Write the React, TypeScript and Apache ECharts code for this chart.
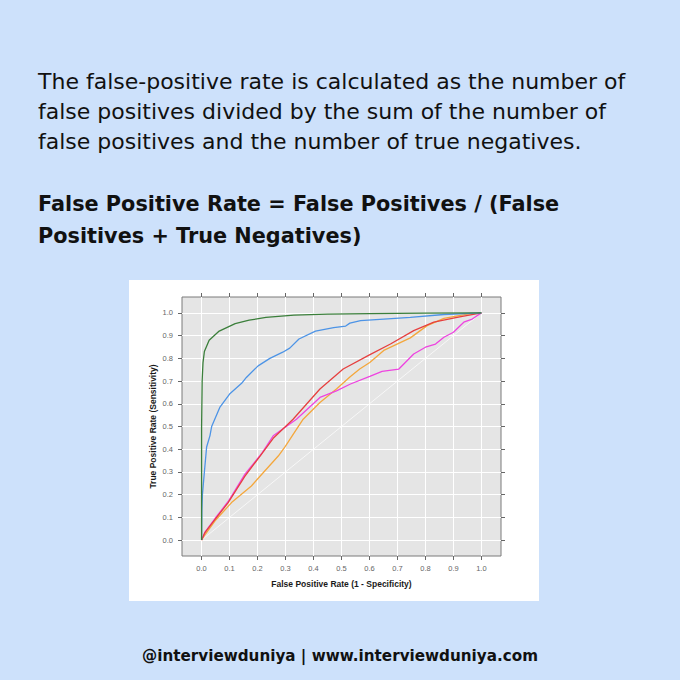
import React, { useEffect, useRef } from "react";
import * as echarts from "echarts";

const tickValues = [0, 0.1, 0.2, 0.3, 0.4, 0.5, 0.6, 0.7, 0.8, 0.9, 1.0];
const tickLabels = ["0.0", "0.1", "0.2", "0.3", "0.4", "0.5", "0.6", "0.7", "0.8", "0.9", "1.0"];

const greenFpr = [0, 0, 0.002, 0.005, 0.01, 0.027, 0.063, 0.12, 0.17, 0.23, 0.33, 0.45, 0.6, 0.8, 1.0];
const greenTpr = [0, 0.5, 0.7, 0.78, 0.83, 0.88, 0.92, 0.953, 0.968, 0.98, 0.99, 0.995, 0.997, 0.999, 1.0];

const blueFpr = [0, 0.001, 0.003, 0.01, 0.018, 0.03, 0.036, 0.065, 0.1, 0.143, 0.16, 0.202, 0.244, 0.29, 0.315, 0.348, 0.407, 0.472, 0.515, 0.53, 0.568, 0.651, 0.746, 0.866, 1.0];
const blueTpr = [0, 0.13, 0.2, 0.3, 0.41, 0.46, 0.5, 0.584, 0.643, 0.69, 0.716, 0.767, 0.8, 0.827, 0.845, 0.885, 0.92, 0.935, 0.942, 0.955, 0.966, 0.973, 0.98, 0.993, 1.0];

const redFpr = [0, 0.012, 0.048, 0.095, 0.155, 0.209, 0.256, 0.327, 0.423, 0.506, 0.6, 0.675, 0.758, 0.83, 0.913, 1.0];
const redTpr = [0, 0.033, 0.091, 0.165, 0.282, 0.37, 0.448, 0.532, 0.665, 0.753, 0.815, 0.863, 0.922, 0.959, 0.98, 1.0];

const pinkFpr = [0, 0.012, 0.048, 0.095, 0.155, 0.214, 0.256, 0.339, 0.423, 0.482, 0.532, 0.601, 0.645, 0.705, 0.758, 0.8, 0.836, 0.866, 0.9, 0.937, 0.967, 1.0];
const pinkTpr = [0, 0.035, 0.095, 0.17, 0.29, 0.38, 0.459, 0.532, 0.628, 0.657, 0.687, 0.721, 0.743, 0.753, 0.819, 0.849, 0.863, 0.893, 0.915, 0.959, 0.973, 1.0];

const orangeFpr = [0, 0.01, 0.048, 0.107, 0.178, 0.208, 0.274, 0.298, 0.363, 0.423, 0.482, 0.532, 0.565, 0.601, 0.651, 0.746, 0.806, 0.866, 0.95, 1.0];
const orangeTpr = [0, 0.02, 0.085, 0.165, 0.238, 0.28, 0.37, 0.41, 0.532, 0.606, 0.665, 0.72, 0.753, 0.782, 0.835, 0.89, 0.944, 0.976, 0.995, 1.0];

const diagFpr = [0, 1];
const diagTpr = [0, 1];

const bodyLines = [
  "The false-positive rate is calculated as the number of",
  "false positives divided by the sum of the number of",
  "false positives and the number of true negatives.",
];
const headingLines = [
  "False Positive Rate = False Positives / (False",
  "Positives + True Negatives)",
];
const footerText = "@interviewduniya | www.interviewduniya.com";
const xTitle = "False Positive Rate (1 - Specificity)";
const yTitle = "True Positive Rate (Sensitivity)";

const pairs = (xs: number[], ys: number[]) => xs.map((x, i) => [x, ys[i]]);
const labelFor = (v: number) => {
  const idx = tickValues.findIndex((t) => Math.abs(t - v) < 1e-6);
  return idx >= 0 ? tickLabels[idx] : "";
};

const TEXT_FONT = "'DejaVu Sans', 'Open Sans', sans-serif";
const AXIS_FONT = "'Liberation Sans', Arial, sans-serif";

export default function App() {
  const ref = useRef<HTMLDivElement>(null);
  useEffect(() => {
    if (!ref.current) return;
    const chart = echarts.init(ref.current, null, { renderer: "svg" });
    const lineSeries = (name: string, xs: number[], ys: number[], color: string, width = 1.3, opacity = 1) => ({
      type: "line",
      name,
      data: pairs(xs, ys),
      showSymbol: false,
      symbol: "none",
      silent: true,
      lineStyle: { color, width, opacity },
    });
    const tick = { show: true, inside: false, length: 4, customValues: tickValues, lineStyle: { color: "#666", width: 1 } };
    const baseAxis = {
      type: "value",
      min: -0.07,
      max: 1.07,
      axisLine: { show: false, onZero: false },
      axisTick: tick,
    };
    chart.setOption({
      animation: false,
      backgroundColor: "#cde1fb",
      graphic: [
        { type: "rect", z: -10, shape: { x: 129, y: 280, width: 410, height: 321 }, style: { fill: "#ffffff" } },
        ...bodyLines.map((t, i) => ({
          type: "text",
          x: 38,
          y: 81 + i * 30,
          style: { text: t, fontSize: 22, fontFamily: TEXT_FONT, fill: "#111111", verticalAlign: "middle" },
        })),
        ...headingLines.map((t, i) => ({
          type: "text",
          x: 38,
          y: 204 + i * 32,
          style: { text: t, fontSize: 20.8, fontWeight: "bold", fontFamily: TEXT_FONT, fill: "#111111", verticalAlign: "middle" },
        })),
        {
          type: "text",
          x: 340,
          y: 656,
          style: { text: footerText, fontSize: 15.2, fontWeight: "bold", fontFamily: TEXT_FONT, fill: "#111111", align: "center", verticalAlign: "middle" },
        },
      ],
      grid: {
        left: 182,
        top: 297,
        width: 319,
        height: 259,
        show: true,
        backgroundColor: "#e5e5e5",
        borderColor: "#7a7a7a",
        borderWidth: 1,
      },
      xAxis: [
        {
          ...baseAxis,
          position: "bottom",
          name: xTitle,
          nameLocation: "middle",
          nameGap: 23,
          nameTextStyle: { fontSize: 8.5, fontWeight: "bold", color: "#1a1a1a", fontFamily: AXIS_FONT },
          axisLabel: { show: true, customValues: tickValues, formatter: (v: number) => labelFor(v), margin: 8, fontSize: 7.5, color: "#666", fontFamily: AXIS_FONT },
          splitLine: { show: true, lineStyle: { color: "#ffffff", width: 1 } },
        },
        {
          ...baseAxis,
          position: "top",
          axisLabel: { show: false },
          splitLine: { show: false },
        },
      ],
      yAxis: [
        {
          ...baseAxis,
          position: "left",
          name: yTitle,
          nameLocation: "middle",
          nameGap: 25,
          nameRotate: 90,
          nameTextStyle: { fontSize: 8.5, fontWeight: "bold", color: "#1a1a1a", fontFamily: AXIS_FONT },
          axisLabel: { show: true, customValues: tickValues, formatter: (v: number) => labelFor(v), margin: 9, fontSize: 7.5, color: "#666", fontFamily: AXIS_FONT },
          splitLine: { show: true, lineStyle: { color: "#ffffff", width: 1 } },
        },
        {
          ...baseAxis,
          position: "right",
          axisLabel: { show: false },
          splitLine: { show: false },
        },
      ],
      series: [
        lineSeries("diagonal", diagFpr, diagTpr, "#ffffff", 1, 0.7),
        lineSeries("orange", orangeFpr, orangeTpr, "#f4a73c"),
        lineSeries("pink", pinkFpr, pinkTpr, "#ee44e0"),
        lineSeries("red", redFpr, redTpr, "#e6403f"),
        lineSeries("blue", blueFpr, blueTpr, "#4d94e6"),
        lineSeries("green", greenFpr, greenTpr, "#3b7f3b"),
      ],
    });
    return () => chart.dispose();
  }, []);
  return <div ref={ref} style={{ position: "fixed", left: 0, top: 0, width: 680, height: 680 }} />;
}
